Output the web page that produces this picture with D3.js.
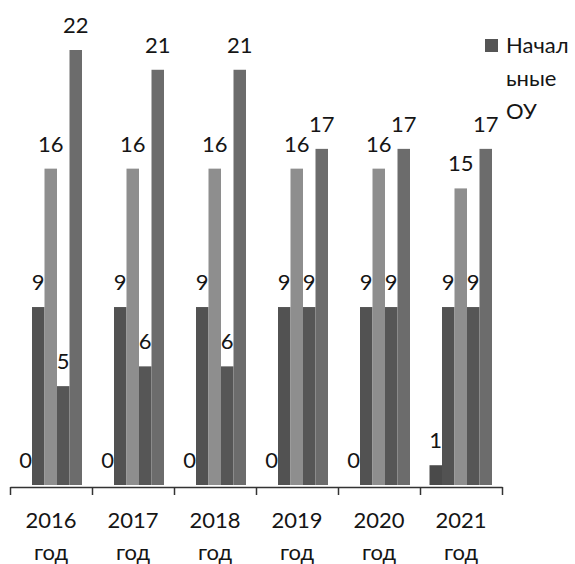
<!DOCTYPE html>
<html>
<head>
<meta charset="utf-8">
<script src="https://cdn.jsdelivr.net/npm/d3@7"></script>
<style>
  body { margin: 0; background: #fff; }
  svg { display: block; font-family: Lato, "Open Sans", sans-serif; }
</style>
</head>
<body>
<div id="chart"></div>
<script>
const width = 575, height = 564;

// data
const years = ["2016", "2017", "2018", "2019", "2020", "2021"];
const yearWord = "год";
const seriesA = [0, 0, 0, 0, 0, 1];
const seriesB = [9, 9, 9, 9, 9, 9];
const seriesC = [16, 16, 16, 16, 16, 15];
const seriesD = [5, 6, 6, 9, 9, 9];
const seriesE = [22, 21, 21, 17, 17, 17];
const seriesColors = ["#4a4a4a", "#525252", "#8e8e8e", "#565656", "#6c6c6c"];
const legendLabel = ["Начал", "ьные", "ОУ"];   // "Начальные ОУ" wrapped as in the original

const allSeries = [seriesA, seriesB, seriesC, seriesD, seriesE];

const svg = d3.select("#chart").append("svg")
    .attr("width", width)
    .attr("height", height);

const x0 = d3.scaleBand()
    .domain(years)
    .range([10, 502]);

const x1 = d3.scaleBand()
    .domain(d3.range(allSeries.length))
    .range([9.5, 72]);

const y = d3.scaleLinear()
    .domain([0, 22])
    .range([485, 50]);

const groups = svg.append("g").selectAll("g")
    .data(years)
    .enter()
    .append("g")
    .attr("transform", d => "translate(" + x0(d) + ",0)");

groups.selectAll("rect")
    .data((d, i) => allSeries.map((s, k) => ({k: k, v: s[i]})))
    .enter()
    .append("rect")
    .attr("x", d => x1(d.k))
    .attr("y", d => y(d.v))
    .attr("width", x1.bandwidth())
    .attr("height", d => y(0) - y(d.v))
    .style("fill", d => seriesColors[d.k]);

groups.selectAll("text.val")
    .data((d, i) => allSeries.map((s, k) => ({k: k, v: s[i]})))
    .enter()
    .append("text")
    .attr("class", "val")
    .attr("x", d => x1(d.k) + x1.bandwidth() / 2)
    .attr("y", d => y(d.v) - 17)
    .attr("text-anchor", "middle")
    .style("font-size", "22px")
    .style("fill", "#151515")
    .text(d => d.v);

// axis with ticks on the category boundaries
const xEdge = d3.scaleLinear().domain([0, years.length]).range([10, 502]);
const axis = svg.append("g")
    .attr("transform", "translate(0,487)")
    .call(d3.axisBottom(xEdge)
        .tickValues(d3.range(years.length + 1))
        .tickSize(8)
        .tickSizeOuter(0)
        .tickFormat(""));
axis.selectAll("path, line").attr("stroke", "#333").attr("stroke-width", 1.5);

const xl = svg.append("g").selectAll("text")
    .data(years)
    .enter()
    .append("text")
    .attr("x", d => x0(d) + x0.bandwidth() / 2)
    .attr("y", 528)
    .attr("text-anchor", "middle")
    .style("font-size", "22px")
    .style("fill", "#151515");
xl.append("tspan").text(d => d);
xl.append("tspan")
    .attr("x", d => x0(d) + x0.bandwidth() / 2)
    .attr("dy", 32)
    .text(yearWord);

// legend
const legend = svg.append("g");
legend.append("rect")
    .attr("x", 485)
    .attr("y", 39)
    .attr("width", 13)
    .attr("height", 13)
    .style("fill", "#555");
legend.selectAll("text")
    .data(legendLabel)
    .enter()
    .append("text")
    .attr("x", 506)
    .attr("y", (d, i) => 53 + i * 33)
    .style("font-size", "22px")
    .style("fill", "#151515")
    .text(d => d);
</script>
</body>
</html>
